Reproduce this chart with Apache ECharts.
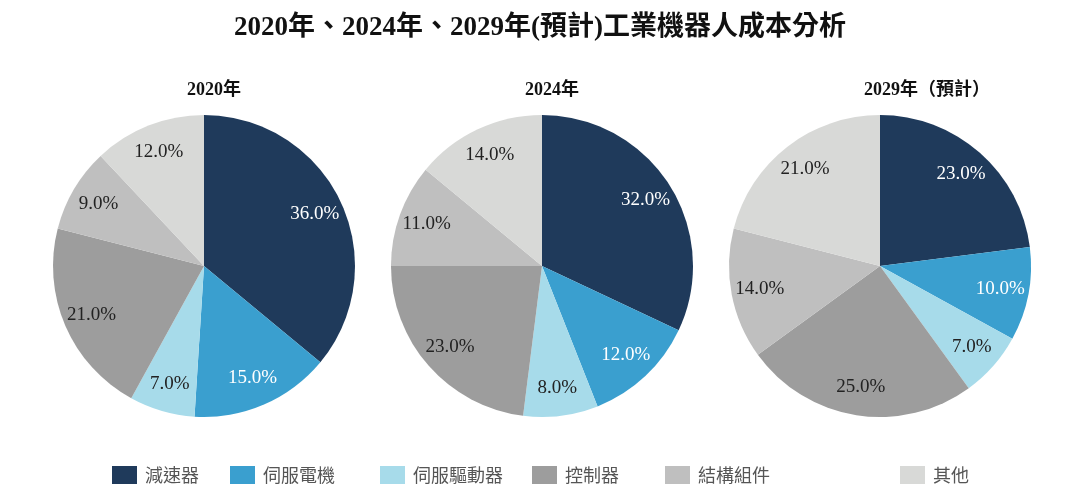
<!DOCTYPE html>
<html>
<head>
<meta charset="utf-8">
<script src="https://cdn.jsdelivr.net/npm/echarts@6/dist/echarts.min.js"></script>
<style>
  html, body { margin: 0; padding: 0; background: #fff; }
  #main { width: 1080px; height: 499px; }
</style>
</head>
<body>
<div id="main"></div>
<script>
// 成本構成
var categories = ['減速器', '伺服電機', '伺服驅動器', '控制器', '結構組件', '其他'];
var years = ['2020年', '2024年', '2029年（預計）'];
var values2020 = [36, 15, 7, 21, 9, 12];
var values2024 = [32, 12, 8, 23, 11, 14];
var values2029 = [23, 10, 7, 25, 14, 21];
var allValues = [values2020, values2024, values2029];

var colors = ['#1f3a5b', '#3a9fcf', '#a7dbea', '#9d9d9d', '#bfbfbf', '#d8d9d7'];
var labelColors = ['#ffffff', '#ffffff', '#222222', '#222222', '#222222', '#222222'];

var serif = '"Liberation Serif", "Times New Roman", "Noto Sans CJK TC", serif';
var centersX = [204, 542, 880];
var subX = [209, 547, 922];
var legendLeft = [107, 225, 375, 527, 660, 895];

var myChart = echarts.init(document.getElementById('main'));

var titles = [{
    text: '2020年、2024年、2029年(預計)工業機器人成本分析',
    left: 'center',
    top: 10,
    textStyle: { fontFamily: serif, fontSize: 27, fontWeight: 'bold', color: '#111' }
}];
var series = [];
var legends = [];

for (var i = 0; i < years.length; i++) {
    titles.push({
        text: years[i],
        left: subX[i],
        top: 76,
        textAlign: 'center',
        textStyle: { fontFamily: serif, fontSize: 18, fontWeight: 'bold', color: '#111' }
    });
    var pieData = [];
    var labelData = [];
    for (var j = 0; j < categories.length; j++) {
        pieData.push({ name: categories[j], value: allValues[i][j] });
        labelData.push({
            name: categories[j],
            value: allValues[i][j],
            label: { color: labelColors[j] }
        });
    }
    series.push({
        type: 'pie',
        center: [centersX[i], 266],
        radius: [0, 151],
        startAngle: 90,
        clockwise: true,
        label: { show: false },
        labelLine: { show: false },
        emphasis: { scale: false },
        data: pieData
    });
    // 標籤層
    series.push({
        type: 'pie',
        center: [centersX[i], 266],
        radius: [88, 151],
        startAngle: 90,
        clockwise: true,
        silent: true,
        itemStyle: { color: 'rgba(0,0,0,0)' },
        label: {
            show: true,
            position: 'inside',
            fontFamily: serif,
            fontSize: 19,
            formatter: function (p) { return p.value.toFixed(1) + '%'; }
        },
        labelLine: { show: false },
        data: labelData
    });
}

for (var k = 0; k < categories.length; k++) {
    legends.push({
        data: [categories[k]],
        left: legendLeft[k],
        top: 461,
        icon: 'rect',
        itemWidth: 25,
        itemHeight: 18,
        selectedMode: false,
        textStyle: {
            fontFamily: '"Noto Sans CJK TC", sans-serif',
            fontSize: 18,
            color: '#555',
            padding: [0, 0, 0, 3]
        }
    });
}

var option = {
    backgroundColor: '#ffffff',
    color: colors,
    animation: false,
    title: titles,
    legend: legends,
    series: series
};
myChart.setOption(option);
</script>
</body>
</html>
